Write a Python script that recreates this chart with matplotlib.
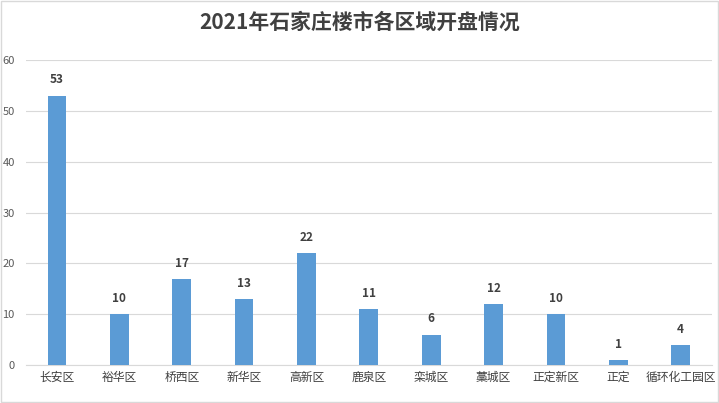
import matplotlib
matplotlib.use("Agg")
import matplotlib.pyplot as plt
from matplotlib.patches import Rectangle

plt.rcParams['font.family'] = ['Noto Sans CJK SC', 'DejaVu Sans']

categories = ["长安区", "裕华区", "桥西区", "新华区", "高新区", "鹿泉区", "栾城区", "藁城区", "正定新区", "正定", "循环化工园区"]
values = [53, 10, 17, 13, 22, 11, 6, 12, 10, 1, 4]
yticks = [0, 10, 20, 30, 40, 50, 60]
title = "2021年石家庄楼市各区域开盘情况"

fig = plt.figure(figsize=(7.19, 4.03), dpi=100)
ax = fig.add_axes([0.036, 0.094, 0.954, 0.757])

x = [i + 0.5 for i in range(len(categories))]
ax.bar(x, values, width=0.3, color="#5B9BD5", zorder=3)
for xi, v in zip(x, values):
    ax.text(xi, v + 1.8, str(v), ha="center", va="bottom", fontsize=8.5, fontweight="bold", color="#404040")

ax.set_xlim(0, len(categories))
ax.set_ylim(0, 60)
ax.set_yticks(yticks)
ax.set_yticklabels([str(t) for t in yticks], fontsize=8, color="#595959")
ax.set_xticks(x)
ax.set_xticklabels(categories, fontsize=8.5, color="#404040")
ax.tick_params(axis="both", length=0)
ax.tick_params(axis="y", pad=8)
ax.tick_params(axis="x", pad=4)
ax.grid(axis="y", color="#D9D9D9", linewidth=0.8, zorder=0)
for s in ["top", "right", "left"]:
    ax.spines[s].set_visible(False)
ax.spines["bottom"].set_color("#D9D9D9")

fig.text(0.5, 0.945, title, ha="center", va="center", fontsize=15, fontweight="bold", color="#404040")
fig.patches.append(Rectangle((0.001, 0.002), 0.997, 0.996, transform=fig.transFigure,
                             fill=False, edgecolor="#D9D9D9", linewidth=1))

fig.savefig("out.png", dpi=100)
